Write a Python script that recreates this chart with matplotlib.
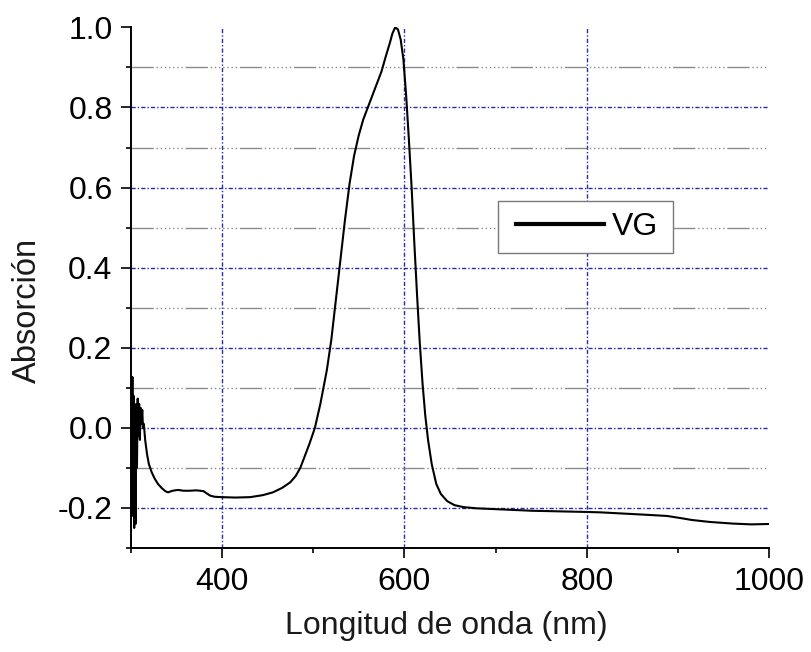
import matplotlib
matplotlib.use("Agg")
import matplotlib.pyplot as plt
from matplotlib.ticker import MultipleLocator, FormatStrFormatter
from matplotlib.patches import Rectangle

plt.rcParams["font.family"] = ["Liberation Sans", "DejaVu Sans"]
plt.rcParams["axes.unicode_minus"] = False

# ── Spectrum ──────────────────────────────────────────────────────────────────
wavelength = [
    300, 300.7, 301.3, 302, 302.6, 303.3, 304, 304.7, 305.5, 306.3, 307, 307.8,
    308.6, 309.4, 310.2, 311, 312, 312.8, 313.6, 314.5, 316, 318, 320, 323, 326,
    330, 334, 338, 341, 346, 352, 358, 365, 372, 380, 383, 387, 392, 400, 415,
    431, 445, 456, 466, 475, 481, 486, 491, 496, 502, 508, 515, 520, 525, 530,
    535, 540, 545, 550, 555, 560, 565, 570, 575, 580, 584, 587, 590, 593, 596,
    599, 602, 605, 608, 611, 614, 617, 620, 623, 626, 630, 635, 640, 647, 655,
    665, 680, 700, 720, 740, 760, 780, 800, 815, 840, 865, 888, 902, 915, 935,
    960, 980, 1000,
]
absorbance = [
    -0.30, 0.10, -0.15, 0.127, -0.22, 0.08, -0.25, 0.02, -0.24, 0.06, -0.10, 0.073,
    -0.02, 0.06, -0.03, 0.05, 0.01, 0.045, 0.0, 0.01, -0.03, -0.065, -0.09, -0.11, -0.125,
    -0.14, -0.15, -0.158, -0.161, -0.157, -0.155, -0.157, -0.157, -0.156, -0.158, -0.163, -0.169, -0.172, -0.173, -0.174,
    -0.173, -0.168, -0.161, -0.15, -0.136, -0.12, -0.10, -0.07, -0.04, 0.0, 0.06, 0.143, 0.22, 0.32, 0.42,
    0.52, 0.61, 0.68, 0.73, 0.77, 0.80, 0.83, 0.86, 0.89, 0.93, 0.96, 0.985, 1.0, 0.995, 0.97,
    0.92, 0.83, 0.72, 0.60, 0.46, 0.33, 0.21, 0.11, 0.03, -0.03, -0.09, -0.14, -0.165, -0.183, -0.193,
    -0.198, -0.201, -0.203, -0.205, -0.207, -0.208, -0.209, -0.210, -0.211, -0.214, -0.217, -0.220, -0.225, -0.230, -0.235,
    -0.239, -0.241, -0.240,
]
series_label = "VG"

x_label = "Longitud de onda (nm)"
y_label = "Absorción"

fig = plt.figure(figsize=(8.11, 6.52), dpi=100, facecolor="white")
ax = fig.add_axes([0.161, 0.1595, 0.7876, 0.7985])

ax.plot(wavelength, absorbance, color="black", linewidth=1.5, label=series_label, zorder=3)

ax.set_xlim(300, 1000)
ax.set_ylim(-0.3, 1.0)
ax.xaxis.set_major_locator(MultipleLocator(200))
ax.xaxis.set_minor_locator(MultipleLocator(100))
ax.yaxis.set_major_locator(MultipleLocator(0.2))
ax.yaxis.set_minor_locator(MultipleLocator(0.1))
ax.yaxis.set_major_formatter(FormatStrFormatter("%.1f"))
ax.set_xticks([400, 600, 800, 1000])

# grid: blue dotted on majors, gray dash/dot on minor y
ax.set_axisbelow(True)
ax.grid(which="major", axis="both", color="#2a2aa8", linewidth=1.0,
        linestyle=(0, (3, 1.5, 1, 1.5)))
ax.grid(which="minor", axis="y", color="#8a8a8a", linewidth=1.0,
        linestyle=(0, (16, 2, 1, 2, 1, 2, 1, 2, 1, 2, 1, 2, 1, 2, 1, 2)))

# no grid lines on the axis ends (1.0 and 1000)
fig.canvas.draw()
for t in ax.xaxis.get_major_ticks():
    if abs(t.get_loc() - 1000) < 1e-6:
        t.gridline.set_visible(False)
for t in ax.yaxis.get_major_ticks():
    if abs(t.get_loc() - 1.0) < 1e-6:
        t.gridline.set_visible(False)

for s in ["top", "right"]:
    ax.spines[s].set_visible(False)
for s in ["left", "bottom"]:
    ax.spines[s].set_linewidth(1.4)

ax.tick_params(which="major", direction="out", length=7, width=1.2,
               labelsize=23, pad=6)
ax.tick_params(which="minor", direction="out", length=3.6, width=1.2)
ax.tick_params(axis="x", which="major", pad=7)

fig.text(27 / 811, 1 - 310 / 652, y_label, rotation=90, ha="center", va="center",
         fontsize=23.5, color="#1a1a1a")
fig.text(446 / 811, 1 - 626 / 652, x_label, ha="center", va="center",
         fontsize=23, color="#1a1a1a")

# legend box
ax.add_patch(Rectangle((0.575, 0.5665), 0.274, 0.0995, transform=ax.transAxes,
                       facecolor="white", edgecolor="#7a7a7a", linewidth=1.0, zorder=4))
leg = ax.legend(loc="center left", bbox_to_anchor=(0.603, 0.6165), frameon=False,
                fontsize=23, handlelength=2.75, handletextpad=0.25,
                borderpad=0, borderaxespad=0)
leg.set_zorder(5)
leg.get_lines()[0].set_linewidth(3)

fig.savefig("out.png", dpi=100, facecolor="white")
